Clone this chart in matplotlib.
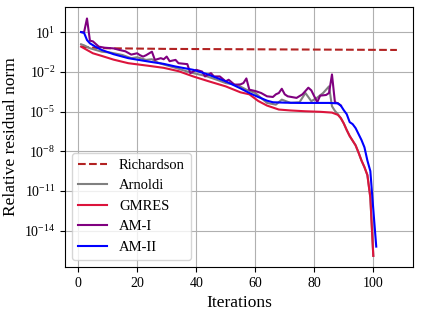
import numpy as np
import matplotlib
matplotlib.use('Agg')
from matplotlib import pyplot as plt

plt.rcParams['font.family'] = ['Liberation Serif', 'DejaVu Serif']
plt.rcParams['mathtext.fontset'] = 'cm'

# log10 of the relative residual norm
rich_it = [1, 5, 10, 30, 60, 90, 108]
rich_log = [-0.1, -0.18, -0.22, -0.27, -0.3, -0.33, -0.35]

arn_it = [1, 2, 4, 8, 11, 15, 18, 20, 23, 25, 27, 29, 33, 37, 39, 43, 47, 50, 54, 57,
          60, 64, 67, 69, 72, 75, 77, 79, 81, 83, 85, 86, 87, 88, 89, 90, 91, 92, 93,
          94, 95, 96, 97, 98, 99, 100]
arn_log = [0.08, 0.0, -0.22, -0.48, -0.55, -0.73, -0.97, -0.9, -1.1, -1.05, -1.3, -1.45,
           -1.7, -1.98, -2.1, -2.3, -2.6, -2.85, -3.0, -3.35, -3.6, -4.35, -4.48, -4.1,
           -4.35, -4.3, -3.6, -4.22, -3.95, -3.6, -3.1, -4.6, -4.95, -5.2, -5.5, -5.9,
           -6.4, -6.85, -7.2, -7.55, -8.1, -8.7, -9.2, -9.8, -11.5, -15.9]

gm_it = [1, 3, 5, 8, 12, 17, 24, 29, 34, 39, 44, 50, 55, 58, 61, 64, 68, 72, 77, 82,
         86, 88, 89, 90, 91, 92, 93, 94, 95, 96, 97, 98, 99, 100]
gm_log = [-0.1, -0.35, -0.6, -0.8, -1.08, -1.35, -1.55, -1.7, -1.95, -2.35, -2.7, -3.1,
          -3.55, -3.7, -4.2, -4.55, -4.85, -4.92, -4.98, -5.02, -5.08, -5.25, -5.5, -5.9,
          -6.4, -6.85, -7.2, -7.55, -8.1, -8.7, -9.2, -9.8, -11.5, -15.9]

am1_it = [1, 2, 3, 4, 5, 6, 7, 9, 12, 14, 16, 18, 20, 21, 22, 23, 25, 26, 28, 29, 30,
          31, 33, 34, 37, 38, 40, 42, 43, 45, 46, 48, 50, 51, 53, 55, 56, 57, 58, 60,
          62, 64, 66, 67, 68, 69, 70, 71, 74, 76, 78, 79, 80, 81, 82, 84, 85, 86, 87,
          88, 89]
am1_log = [1.0, 0.97, 2.03, 0.35, 0.3, 0.1, -0.1, -0.18, -0.23, -0.35, -0.45, -0.7,
           -0.6, -0.75, -0.85, -0.75, -0.48, -1.1, -0.97, -1.05, -0.85, -1.2, -1.1, -1.35,
           -1.42, -2.1, -1.85, -1.98, -2.35, -2.1, -2.35, -2.35, -2.72, -2.6, -2.98, -2.95,
           -2.85, -2.5, -3.35, -3.45, -3.6, -3.85, -3.9, -3.7, -3.6, -3.28, -3.7, -3.85,
           -3.97, -3.7, -3.2, -3.4, -3.85, -4.3, -3.8, -3.75, -3.6, -2.2, -4.3, -4.38,
           -4.55]

am2_it = [1, 2, 3, 4, 6, 8, 12, 17, 24, 29, 33, 39, 44, 50, 55, 58, 61, 64, 66, 70, 75,
          80, 85, 88, 89, 90, 91, 92, 93, 94, 95, 96, 97, 98, 99, 100, 101]
am2_log = [1.0, 0.95, 0.4, 0.15, -0.12, -0.35, -0.67, -0.97, -1.23, -1.4, -1.6, -1.85,
           -2.2, -2.72, -3.25, -3.6, -3.9, -4.18, -4.3, -4.33, -4.35, -4.35, -4.35, -4.38,
           -4.55, -4.9, -5.2, -5.8, -5.95, -6.25, -6.7, -7.15, -7.7, -8.7, -9.5, -12.4,
           -15.2]

fig = plt.figure(figsize=(4.23, 3.15), dpi=100)
ax = fig.add_axes([0.154, 0.152, 0.822, 0.826])

ax.plot(rich_it, 10.0 ** np.array(rich_log), '--', color='firebrick', lw=1.5, label='Richardson')
ax.plot(arn_it, 10.0 ** np.array(arn_log), color='gray', lw=1.5, label='Arnoldi')
ax.plot(gm_it, 10.0 ** np.array(gm_log), color='crimson', lw=1.5, label='GMRES')
ax.plot(am1_it, 10.0 ** np.array(am1_log), color='purple', lw=1.5, label='AM-I')
ax.plot(am2_it, 10.0 ** np.array(am2_log), color='blue', lw=1.5, label='AM-II')

ax.set_yscale('log')
ax.set_xlim(-4.4, 113.4)
ax.set_ylim(10 ** -16.75, 10 ** 2.9)
ax.set_yticks([1e1, 1e-2, 1e-5, 1e-8, 1e-11, 1e-14])
ax.yaxis.set_minor_locator(matplotlib.ticker.NullLocator())
ax.set_xticks([0, 20, 40, 60, 80, 100])
ax.tick_params(labelsize=10)
ax.grid(True, color='#b0b0b0', lw=0.8)

ax.set_xlabel('Iterations', fontsize=12.5)
ax.set_ylabel('Relative residual norm', fontsize=12.5)
ax.legend(loc='lower left', fontsize=10.5)

fig.savefig('out.png', dpi=100)
